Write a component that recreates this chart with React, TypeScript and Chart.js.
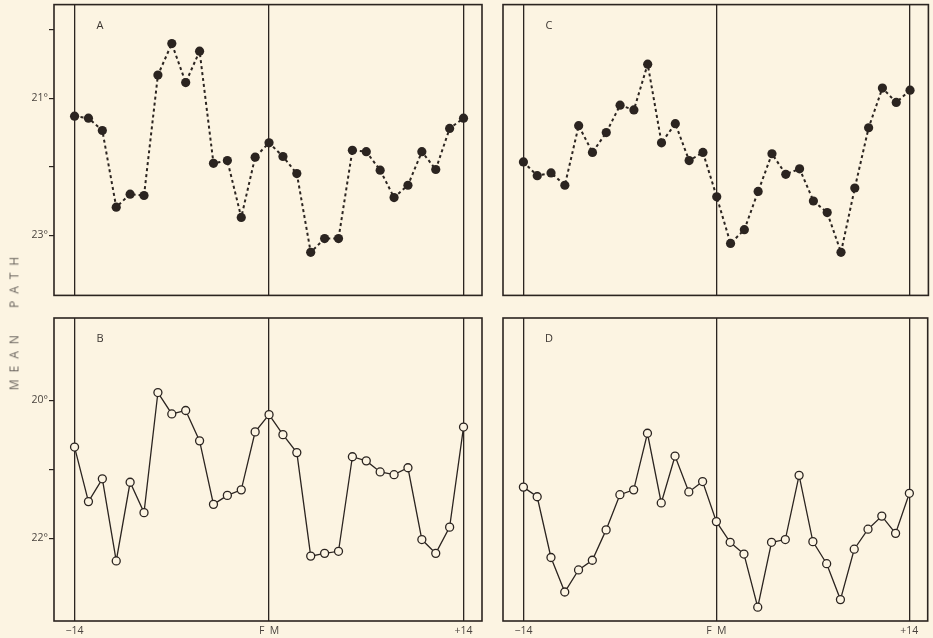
import React, { useEffect, useRef } from 'react';
import { Chart, registerables } from 'chart.js';

Chart.register(...registerables);

// ---- data ----
const days = [-14, -13, -12, -11, -10, -9, -8, -7, -6, -5, -4, -3, -2, -1, 0, 1, 2, 3, 4, 5, 6, 7, 8, 9, 10, 11, 12, 13, 14];

const seriesA = [21.26, 21.29, 21.47, 22.59, 22.40, 22.42, 20.66, 20.20, 20.77, 20.31, 21.95, 21.91, 22.74, 21.86, 21.65, 21.85, 22.10, 23.25, 23.05, 23.05, 21.76, 21.78, 22.05, 22.45, 22.27, 21.78, 22.04, 21.44, 21.29];
const seriesB = [20.68, 21.47, 21.14, 22.33, 21.19, 21.63, 19.89, 20.20, 20.15, 20.59, 21.51, 21.38, 21.30, 20.46, 20.21, 20.50, 20.76, 22.26, 22.22, 22.19, 20.82, 20.88, 21.04, 21.08, 20.98, 22.02, 22.22, 21.84, 20.39];
const seriesC = [21.93, 22.13, 22.09, 22.27, 21.40, 21.79, 21.50, 21.10, 21.17, 20.50, 21.65, 21.37, 21.91, 21.79, 22.44, 23.12, 22.92, 22.36, 21.81, 22.11, 22.03, 22.50, 22.67, 23.25, 22.31, 21.43, 20.85, 21.06, 20.88];
const seriesD = [21.26, 21.40, 22.28, 22.78, 22.46, 22.32, 21.88, 21.37, 21.30, 20.48, 21.49, 20.81, 21.33, 21.18, 21.76, 22.06, 22.23, 23.00, 22.06, 22.02, 21.09, 22.05, 22.37, 22.89, 22.16, 21.87, 21.68, 21.93, 21.35];

const xTickValues = [-14, 0, 14];
const xTickLabels = ['\u221214', 'F  M', '+14'];

const topYTicks = [20, 21, 22, 23];
const topYLabels = ['', '21\u00B0', '', '23\u00B0'];
const bottomYTicks = [20, 21, 22];
const bottomYLabels = ['20\u00B0', '', '22\u00B0'];

const axisTitle = 'MEAN PATH';

// ---- styling ----
const INK = '#2b2420';
const PAPER = '#fcf4e2';
const TEXT = '#4a443f';
const FONT = '"Open Sans", "DejaVu Sans", sans-serif';

type PanelProps = {
  letter: string;
  values: number[];
  filled: boolean;
  showY: boolean;
  showXLabels: boolean;
  yMin: number;
  yMax: number;
  yTicks: number[];
  yLabels: string[];
  left: number;
  top: number;
  width: number;
  height: number;
  padding: { top: number; right: number; bottom: number; left: number };
};

function Panel(p: PanelProps) {
  const ref = useRef<HTMLCanvasElement>(null);
  useEffect(() => {
    const canvas = ref.current!;
    const framePlugin = {
      id: 'frame' + p.letter,
      beforeDatasetsDraw(chart: any) {
        const { ctx, chartArea: a } = chart;
        ctx.save();
        ctx.strokeStyle = INK;
        ctx.lineWidth = 1.6;
        ctx.strokeRect(a.left, a.top, a.right - a.left, a.bottom - a.top);
        ctx.fillStyle = '#3a3430';
        ctx.font = '11px ' + FONT;
        ctx.textAlign = 'center';
        ctx.textBaseline = 'middle';
        ctx.fillText(p.letter, a.left + 46, a.top + 21);
        ctx.restore();
      },
    };
    const chart = new Chart(canvas, {
      type: 'line',
      data: {
        datasets: [
          {
            data: days.map((d, i) => ({ x: d, y: p.values[i] })),
            borderColor: INK,
            borderWidth: p.filled ? 2 : 1.3,
            borderDash: p.filled ? [3, 3] : [],
            pointRadius: p.filled ? 4.6 : 4,
            pointBackgroundColor: p.filled ? INK : PAPER,
            pointBorderColor: INK,
            pointBorderWidth: p.filled ? 0 : 1.3,
            tension: 0,
            fill: false,
          },
        ],
      },
      options: {
        animation: false,
        responsive: false,
        events: [],
        layout: { padding: p.padding },
        plugins: { legend: { display: false }, tooltip: { enabled: false } },
        scales: {
          x: {
            type: 'linear',
            min: -15.48,
            max: 15.33,
            afterBuildTicks: (s: any) => {
              s.ticks = xTickValues.map((v) => ({ value: v }));
            },
            afterFit: (s: any) => {
              s.height = p.showXLabels ? 17 : 0;
              s.paddingLeft = 0;
              s.paddingRight = 0;
              s.paddingTop = 0;
              s.paddingBottom = 0;
            },
            grid: { color: INK, lineWidth: 1.3, drawTicks: false },
            border: { display: false },
            ticks: {
              display: p.showXLabels,
              padding: 4,
              autoSkip: false,
              maxRotation: 0,
              color: TEXT,
              font: { family: FONT, size: 10.5 },
              callback: (v: any) => xTickLabels[xTickValues.indexOf(Number(v))] ?? '',
            },
          },
          y: {
            display: p.showY,
            reverse: true,
            min: p.yMin,
            max: p.yMax,
            afterBuildTicks: (s: any) => {
              s.ticks = p.yTicks.map((v) => ({ value: v }));
            },
            afterFit: (s: any) => {
              s.width = p.showY ? 54 : 0;
              s.paddingLeft = 0;
              s.paddingRight = 0;
              s.paddingTop = 0;
              s.paddingBottom = 0;
            },
            grid: { drawOnChartArea: false, color: INK, lineWidth: 1.2, tickLength: 5 },
            border: { display: false },
            ticks: {
              padding: 1,
              autoSkip: false,
              color: TEXT,
              font: { family: FONT, size: 10.5 },
              callback: (v: any) => p.yLabels[p.yTicks.indexOf(Number(v))] ?? '',
            },
          },
        },
      },
      plugins: [framePlugin],
    } as any);
    return () => chart.destroy();
  }, []);
  return (
    <canvas
      ref={ref}
      width={p.width}
      height={p.height}
      style={{ position: 'absolute', left: p.left, top: p.top, width: p.width, height: p.height }}
    />
  );
}

export default function App() {
  const topRange = { yMin: 19.63, yMax: 23.88 };
  const botRange = { yMin: 18.81, yMax: 23.2 };
  return (
    <div
      style={{
        position: 'fixed',
        left: 0,
        top: 0,
        width: 933,
        height: 638,
        background: PAPER,
        overflow: 'hidden',
      }}
    >
      <Panel
        letter="A"
        values={seriesA}
        filled
        showY
        showXLabels={false}
        {...topRange}
        yTicks={topYTicks}
        yLabels={topYLabels}
        left={0}
        top={0}
        width={490}
        height={300}
        padding={{ top: 4, right: 8, bottom: 3, left: 0 }}
      />
      <Panel
        letter="B"
        values={seriesB}
        filled={false}
        showY
        showXLabels
        {...botRange}
        yTicks={bottomYTicks}
        yLabels={bottomYLabels}
        left={0}
        top={310}
        width={490}
        height={328}
        padding={{ top: 8, right: 8, bottom: 0, left: 0 }}
      />
      <Panel
        letter="C"
        values={seriesC}
        filled
        showY={false}
        showXLabels={false}
        {...topRange}
        yTicks={topYTicks}
        yLabels={topYLabels}
        left={495}
        top={0}
        width={438}
        height={300}
        padding={{ top: 4, right: 1, bottom: 3, left: 8 }}
      />
      <Panel
        letter="D"
        values={seriesD}
        filled={false}
        showY={false}
        showXLabels
        {...botRange}
        yTicks={bottomYTicks}
        yLabels={bottomYLabels}
        left={495}
        top={310}
        width={438}
        height={328}
        padding={{ top: 8, right: 1, bottom: 0, left: 8 }}
      />
      <div
        style={{
          position: 'absolute',
          left: 14,
          top: 320,
          transform: 'translate(-50%, -50%) rotate(-90deg)',
          whiteSpace: 'nowrap',
          fontFamily: FONT,
          fontSize: 12,
          letterSpacing: 7,
          wordSpacing: 10,
          color: '#6a645e',
        }}
      >
        {axisTitle}
      </div>
    </div>
  );
}
